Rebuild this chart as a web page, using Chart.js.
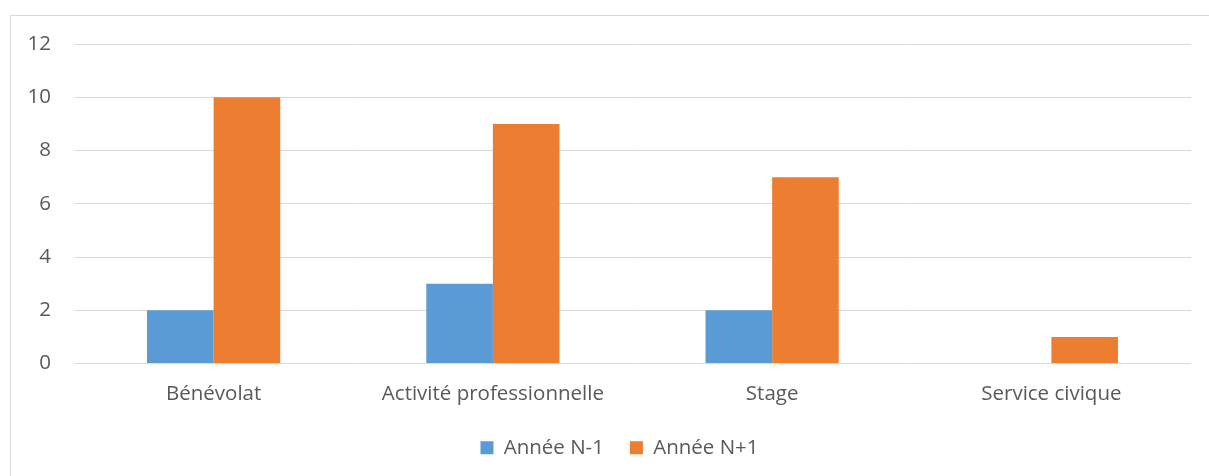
<!DOCTYPE html>
<html>
<head>
<meta charset="utf-8">
<script src="https://cdn.jsdelivr.net/npm/chart.js@4"></script>
<style>
    body { margin: 0; background: #fff; }
    #frame { position: absolute; left: 10px; top: 15px; width: 1300px; height: 600px; border: 1px solid #d9d9d9; }
    #wrap { position: absolute; left: 0; top: 0; width: 1209px; height: 476px; }
</style>
</head>
<body>
<div id="frame"></div>
<div id="wrap"><canvas id="chart"></canvas></div>
<script>
const categories = ['Bénévolat', 'Activité professionnelle', 'Stage', 'Service civique'];
const seriesNames = ['Année N-1', 'Année N+1'];
const valuesN1 = [2, 3, 2, 0];
const valuesN2 = [10, 9, 7, 1];
const yTicks = [0, 2, 4, 6, 8, 10, 12];

const FONT = '"Open Sans", sans-serif';
const FONT_SIZE = 20.5;
const LEGEND_SHIFT = 14;

// nudge the legend a little right of centre, like the original
const shiftLegend = {
    id: 'shiftLegend',
    afterLayout(chart) {
        chart.legend.left += LEGEND_SHIFT;
        chart.legend.right += LEGEND_SHIFT;
    }
};

const ctx = document.getElementById('chart').getContext('2d');
const chart = new Chart(ctx, {
    type: 'bar',
    data: {
        labels: categories,
        datasets: [{
            label: seriesNames[0],
            data: valuesN1,
            backgroundColor: '#5b9bd5',
            barPercentage: 1,
            categoryPercentage: 0.477
        }, {
            label: seriesNames[1],
            data: valuesN2,
            backgroundColor: '#ed7d31',
            barPercentage: 1,
            categoryPercentage: 0.477
        }]
    },
    options: {
        responsive: true,
        maintainAspectRatio: false,
        animation: false,
        layout: { padding: { left: 20, right: 18, top: 44, bottom: 8 } },
        scales: {
            x: {
                afterFit: (s) => { s.height = 48; },
                grid: { display: false, drawTicks: false },
                border: { display: false },
                ticks: { color: '#595959', font: { family: FONT, size: FONT_SIZE }, padding: 18, maxRotation: 0 }
            },
            y: {
                min: 0,
                max: 12,
                afterFit: (s) => { s.width = 54; },
                afterBuildTicks: (s) => { s.ticks = yTicks.map(v => ({ value: v })); },
                grid: { color: '#d9d9d9', lineWidth: 1, drawTicks: false },
                border: { display: false },
                ticks: { color: '#595959', font: { family: FONT, size: FONT_SIZE }, padding: 23 }
            }
        },
        plugins: {
            legend: {
                position: 'bottom',
                labels: {
                    color: '#595959',
                    font: { family: FONT, size: FONT_SIZE },
                    boxWidth: 13,
                    boxHeight: 13,
                    padding: 26
                }
            },
            tooltip: { enabled: false }
        }
    },
    plugins: [shiftLegend]
});
</script>
</body>
</html>
